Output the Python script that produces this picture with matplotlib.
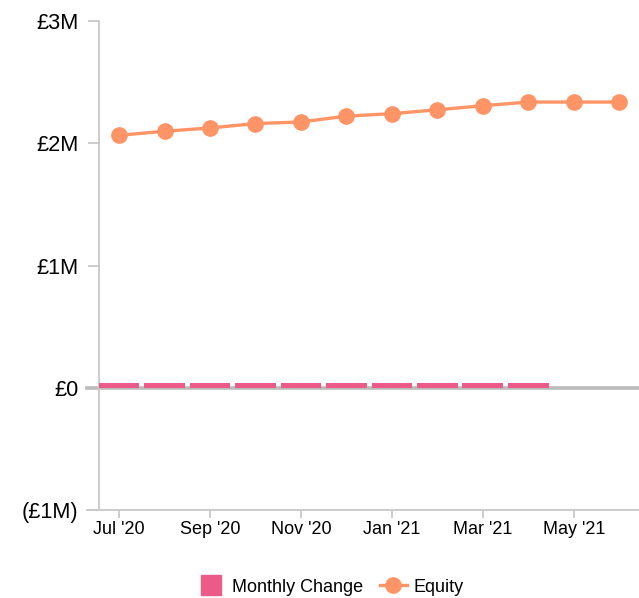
import matplotlib.pyplot as plt
from matplotlib.lines import Line2D

plt.rcParams['font.family'] = ['Liberation Sans', 'DejaVu Sans']

# === Data ===
months = ["Jul '20", "Aug '20", "Sep '20", "Oct '20", "Nov '20", "Dec '20",
          "Jan '21", "Feb '21", "Mar '21", "Apr '21", "May '21", "Jun '21"]
equity = [2.065, 2.098, 2.125, 2.161, 2.174, 2.222,
          2.242, 2.274, 2.307, 2.337, 2.337, 2.337]  # £M
monthly_change = [0.04, 0.04, 0.04, 0.04, 0.04, 0.04,
                  0.04, 0.04, 0.04, 0.04]  # £M, Jul '20 - Apr '21
y_ticks = [-1, 0, 1, 2, 3]
y_labels = ['(£1M)', '£0', '£1M', '£2M', '£3M']

orange = '#ff9466'
pink = '#ec5a8a'
grey = '#c8c8c8'

fig = plt.figure(figsize=(6.39, 5.98), dpi=100)
ax = fig.add_axes([99 / 639, 88 / 598, 540 / 639, 489 / 598])

x = list(range(len(months)))
ax.bar(x[:len(monthly_change)], monthly_change, width=0.9, color=pink, zorder=3)
ax.plot(x, equity, color=orange, lw=2.4, marker='o', markersize=11, zorder=4)

# zero line and bottom line extend past the y axis
ax.plot([-12 / 540, 1], [0, 0], transform=ax.get_yaxis_transform(),
        color='#bbbbbb', lw=2.6, clip_on=False, zorder=2)
ax.plot([-12 / 540, 1], [-1, -1], transform=ax.get_yaxis_transform(),
        color=grey, lw=1.3, clip_on=False, zorder=2)

ax.set_xlim(-0.44, 11.43)
ax.set_ylim(-1, 3)
ax.set_yticks(y_ticks)
ax.set_yticklabels(y_labels, fontsize=15.7)
ax.set_xticks(x[::2])
ax.set_xticklabels(months[::2], fontsize=13)

for s in ['top', 'right', 'bottom']:
    ax.spines[s].set_visible(False)
ax.spines['left'].set_color(grey)
ax.spines['left'].set_linewidth(1.3)
ax.tick_params(axis='y', length=8, width=1.3, color=grey, pad=7)
ax.tick_params(axis='x', length=6, width=1.3, color=grey, pad=2)

handles = [Line2D([], [], color=pink, lw=0, marker='s', markersize=14),
           Line2D([], [], color=orange, lw=2.4, marker='o', markersize=11)]
fig.legend(handles, ['Monthly Change', 'Equity'], loc='center',
           bbox_to_anchor=(0.518, 0.018), ncol=2, frameon=False,
           fontsize=13, handlelength=1.5, handletextpad=0.4, columnspacing=0.9)

fig.savefig('out.png', dpi=100)
